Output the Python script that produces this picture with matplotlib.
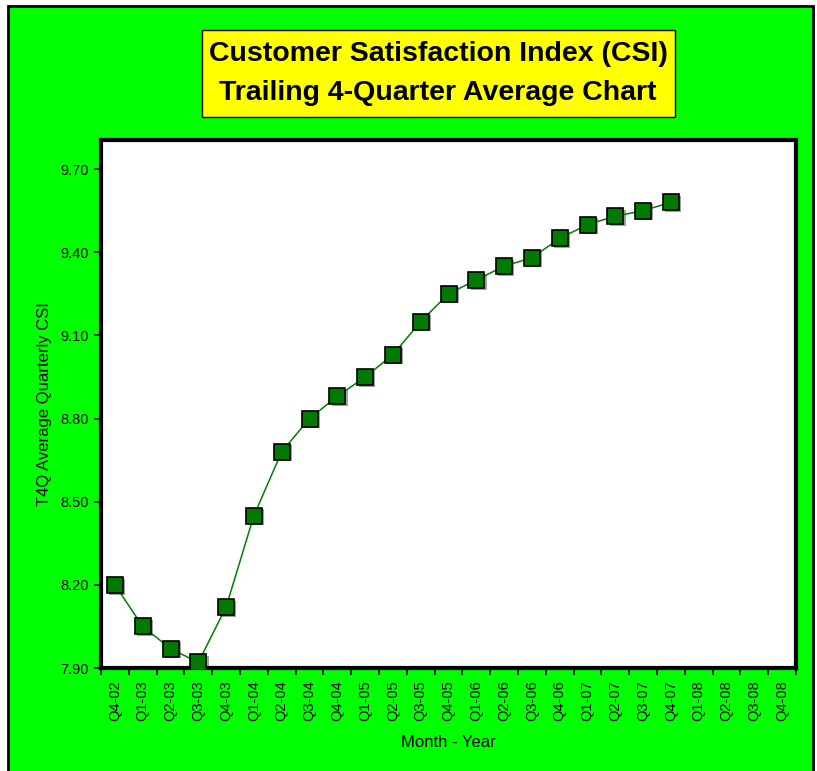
import numpy as np
import matplotlib.pyplot as plt
from matplotlib.patches import Rectangle

quarters = ["Q4-02", "Q1-03", "Q2-03", "Q3-03", "Q4-03", "Q1-04", "Q2-04", "Q3-04",
            "Q4-04", "Q1-05", "Q2-05", "Q3-05", "Q4-05", "Q1-06", "Q2-06", "Q3-06",
            "Q4-06", "Q1-07", "Q2-07", "Q3-07", "Q4-07", "Q1-08", "Q2-08", "Q3-08",
            "Q4-08"]
csi = [8.20, 8.05, 7.97, 7.92, 8.12, 8.45, 8.68, 8.80, 8.88, 8.95, 9.03, 9.15,
       9.25, 9.30, 9.35, 9.38, 9.45, 9.50, 9.53, 9.55, 9.58]
yticks = [7.90, 8.20, 8.50, 8.80, 9.10, 9.40, 9.70]

plt.rcParams['font.family'] = ['Liberation Sans', 'DejaVu Sans']

W, H = 817, 771
fig = plt.figure(figsize=(W / 100, H / 100), dpi=100)
fig.patch.set_facecolor("white")

# green chart area with black frame
fig.patches.append(Rectangle((8 / W, -0.02), 805 / W, 1 - 6 / H + 0.02,
                             transform=fig.transFigure, facecolor="#00FF00",
                             edgecolor="black", linewidth=2, zorder=-2))
# title box
fig.patches.append(Rectangle((202 / W, 1 - 117 / H), 473 / W, 87 / H,
                             transform=fig.transFigure, facecolor="#FFFF00",
                             edgecolor="black", linewidth=1, zorder=-1))

ax = fig.add_axes([101 / W, 1 - 668 / H, 695 / W, 528 / H])
ax.set_facecolor("white")

x = np.arange(len(csi))
ax.plot(x + 0.08, np.array(csi) - 0.006, 's', color="#A0A0A0", markersize=11,
        markeredgewidth=0, zorder=2)
ax.plot(x, csi, '-', color="#008000", linewidth=1.1, zorder=3)
ax.plot(x, csi, 's', color="#007A00", markersize=11, markeredgecolor="black",
        markeredgewidth=1.2, zorder=4)

ax.set_xlim(-0.5, len(quarters) - 0.5)
ax.set_ylim(7.90, 9.805)

ax.set_xticks(np.arange(len(quarters)))
ax.set_xticklabels(quarters, rotation=90, fontsize=10.5)
ax.set_xticks(np.arange(len(quarters) + 1) - 0.5, minor=True)
ax.tick_params(axis="x", which="major", length=0, pad=9)
ax.tick_params(axis="x", which="minor", length=5, width=1.2, direction="out")

ax.set_yticks(yticks)
ax.set_yticklabels([f"{v:.2f}" for v in yticks], fontsize=10.5)
ax.tick_params(axis="y", length=5, width=1.2, direction="out", pad=4)

for s in ax.spines.values():
    s.set_linewidth(3)
    s.set_color("black")

ax.set_ylabel("T4Q Average Quarterly CSI", fontsize=12, labelpad=6)
ax.set_xlabel("Month - Year", fontsize=12, labelpad=10)

fig.text(438 / W, 1 - 54 / H, "Customer Satisfaction Index (CSI)",
         ha="center", va="center", fontsize=20.5, fontweight="bold")
fig.text(438 / W, 1 - 93 / H, "Trailing 4-Quarter Average Chart",
         ha="center", va="center", fontsize=20.5, fontweight="bold")

fig.savefig("out.png", dpi=100)
